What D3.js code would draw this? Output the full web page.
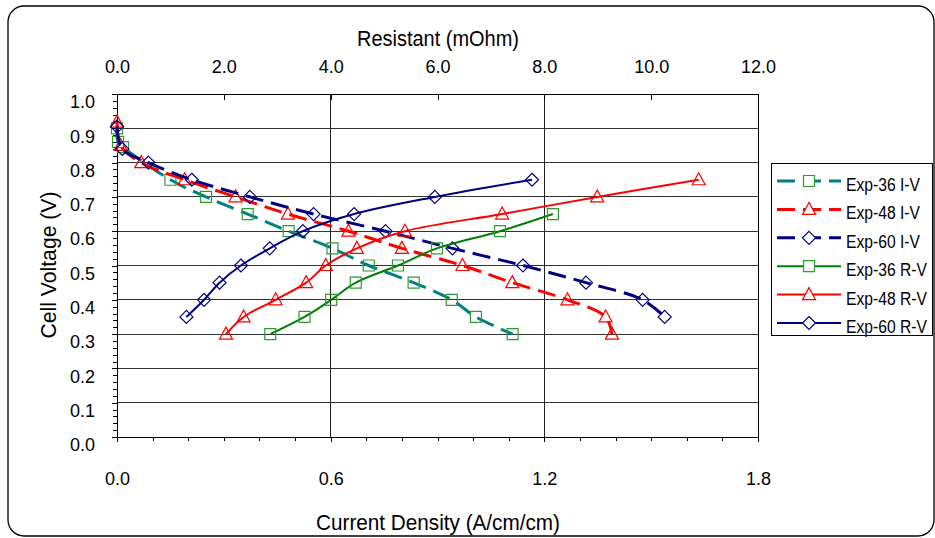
<!DOCTYPE html>
<html>
<head>
<meta charset="utf-8">
<script src="https://cdn.jsdelivr.net/npm/d3@7"></script>
<style>
  html, body { margin: 0; padding: 0; background: #fff; }
  svg { display: block; font-family: "Liberation Sans", Arial, sans-serif; }
</style>
</head>
<body>
<svg id="chart" width="935" height="538"></svg>
<script>
// ---------------- data ----------------
const voltageTicks = [0, 0.1, 0.2, 0.3, 0.4, 0.5, 0.6, 0.7, 0.8, 0.9, 1.0];
const currentTicks = [0, 0.6, 1.2, 1.8];
const resistTicks = [0, 2, 4, 6, 8, 10, 12];

// I-V curves (bottom axis: current density)
const exp36IV_I = [0, 0.003, 0.017, 0.15, 0.25, 0.367, 0.482, 0.605, 0.707, 0.833, 0.94, 1.008, 1.111];
const exp36IV_V = [0.90, 0.86, 0.845, 0.75, 0.70, 0.65, 0.60, 0.55, 0.50, 0.45, 0.40, 0.35, 0.30];
const exp48IV_I = [0, 0.01, 0.068, 0.19, 0.333, 0.48, 0.65, 0.80, 0.97, 1.11, 1.265, 1.372, 1.39];
const exp48IV_V = [0.918, 0.85, 0.80, 0.75, 0.70, 0.65, 0.60, 0.55, 0.50, 0.45, 0.40, 0.35, 0.30];
const exp60IV_I = [0, 0.015, 0.088, 0.21, 0.373, 0.552, 0.754, 0.942, 1.14, 1.317, 1.476, 1.538];
const exp60IV_V = [0.905, 0.84, 0.80, 0.75, 0.70, 0.65, 0.60, 0.55, 0.50, 0.45, 0.40, 0.35];

// R-V curves (top axis: resistance)
const exp36RV_R = [2.87, 3.51, 4.01, 4.47, 5.26, 5.99, 7.17, 8.16];
const exp36RV_V = [0.30, 0.35, 0.40, 0.45, 0.50, 0.55, 0.60, 0.65];
const exp48RV_R = [2.04, 2.37, 2.97, 3.54, 3.91, 4.49, 5.39, 7.21, 8.99, 10.89];
const exp48RV_V = [0.30, 0.35, 0.40, 0.45, 0.50, 0.55, 0.60, 0.65, 0.70, 0.75];
const exp60RV_R = [1.30, 1.63, 1.92, 2.32, 2.86, 3.48, 4.44, 5.95, 7.77];
const exp60RV_V = [0.35, 0.40, 0.45, 0.50, 0.55, 0.60, 0.65, 0.70, 0.75];

const seriesNames = ["Exp-36 I-V", "Exp-48 I-V", "Exp-60 I-V", "Exp-36 R-V", "Exp-48 R-V", "Exp-60 R-V"];

// ---------------- layout ----------------
const svg = d3.select("#chart");
const L = 117, R = 758, T = 94, B = 437;

const y = d3.scaleLinear().domain([0, 1]).range([B, T]);
const xI = d3.scaleLinear().domain([0, 1.8]).range([L, R]);
const xR = d3.scaleLinear().domain([0, 12]).range([L, R]);

// outer frame
svg.append("rect").attr("x", 8).attr("y", 6).attr("width", 926).attr("height", 530)
  .attr("rx", 16).attr("ry", 16).attr("fill", "#fff").attr("stroke", "#000").attr("stroke-width", 1.3);

// gridlines
const grid = svg.append("g");
voltageTicks.filter(v => v > 0).forEach(v => {
  grid.append("line").attr("x1", L).attr("x2", R).attr("y1", y(v)).attr("y2", y(v))
    .attr("stroke", "#333").attr("stroke-width", 1).attr("shape-rendering", "crispEdges");
});
currentTicks.filter(v => v > 0 && v < 1.8).forEach(v => {
  grid.append("line").attr("x1", xI(v)).attr("x2", xI(v)).attr("y1", T).attr("y2", B)
    .attr("stroke", "#222").attr("stroke-width", 1).attr("shape-rendering", "crispEdges");
});
// plot border
svg.append("rect").attr("x", L).attr("y", T).attr("width", R - L).attr("height", B - T)
  .attr("fill", "none").attr("stroke", "#000").attr("stroke-width", 1).attr("shape-rendering", "crispEdges");

// axes
function styleAxis(g) {
  g.select(".domain").attr("stroke", "#000").attr("shape-rendering", "crispEdges");
  g.selectAll(".tick line").attr("stroke", "#000").attr("shape-rendering", "crispEdges");
  g.selectAll(".tick text").attr("fill", "#000").style("font-size", "18px")
    .style("font-family", "'Liberation Sans', Arial, sans-serif");
}
const minorV = d3.range(0, 1.0001, 0.02);
svg.append("g").attr("transform", `translate(${L},0)`)
  .call(d3.axisLeft(y).tickValues(minorV).tickSize(4).tickFormat(""))
  .call(styleAxis);
svg.append("g").attr("transform", `translate(${L},0)`)
  .call(d3.axisLeft(y).tickValues(voltageTicks).tickSize(5).tickPadding(17).tickFormat(d3.format(".1f")))
  .call(styleAxis)
  .call(g => g.selectAll(".tick text").attr("y", 8));

const minorI = d3.range(0, 1.8001, 0.1);
svg.append("g").attr("transform", `translate(0,${B})`)
  .call(d3.axisBottom(xI).tickValues(minorI).tickSize(4).tickFormat(""))
  .call(styleAxis);
svg.append("g").attr("transform", `translate(0,${B})`)
  .call(d3.axisBottom(xI).tickValues(currentTicks).tickSize(5).tickPadding(30).tickFormat(d3.format(".1f")))
  .call(styleAxis);

svg.append("g").attr("transform", `translate(0,${T})`)
  .call(d3.axisTop(xR).tickValues(resistTicks).tickSize(-6).tickPadding(21).tickFormat(d3.format(".1f")))
  .call(styleAxis);

// axis titles
svg.append("text").attr("x", 438).attr("y", 46).attr("text-anchor", "middle")
  .attr("textLength", 162).attr("lengthAdjust", "spacingAndGlyphs")
  .style("font-size", "22px").text("Resistant (mOhm)");
svg.append("text").attr("x", 438).attr("y", 530).attr("text-anchor", "middle")
  .attr("textLength", 244).attr("lengthAdjust", "spacingAndGlyphs")
  .style("font-size", "22px").text("Current Density (A/cm/cm)");
svg.append("text").attr("transform", "translate(56,265) rotate(-90)").attr("text-anchor", "middle")
  .attr("textLength", 147).attr("lengthAdjust", "spacingAndGlyphs")
  .style("font-size", "22px").text("Cell Voltage (V)");

// ---------------- series ----------------
const seriesDefs = [
  { name: seriesNames[0], xs: exp36IV_I, vs: exp36IV_V, sx: xI, line: "#008080", mark: "#2e9b2e", dash: "18,8", w: 3, sym: "square" },
  { name: seriesNames[1], xs: exp48IV_I, vs: exp48IV_V, sx: xI, line: "#ff0000", mark: "#ff0000", dash: "18,8", w: 3, sym: "triangle" },
  { name: seriesNames[2], xs: exp60IV_I, vs: exp60IV_V, sx: xI, line: "#000080", mark: "#000080", dash: "18,8", w: 3, sym: "diamond" },
  { name: seriesNames[3], xs: exp36RV_R, vs: exp36RV_V, sx: xR, line: "#008000", mark: "#2e9b2e", dash: null, w: 2, sym: "square" },
  { name: seriesNames[4], xs: exp48RV_R, vs: exp48RV_V, sx: xR, line: "#ff0000", mark: "#ff0000", dash: null, w: 2, sym: "triangle" },
  { name: seriesNames[5], xs: exp60RV_R, vs: exp60RV_V, sx: xR, line: "#000080", mark: "#000080", dash: null, w: 2, sym: "diamond" }
];

function symPath(sym) {
  if (sym === "square") return "M-5.5,-5.5H5.5V5.5H-5.5Z";
  if (sym === "triangle") return "M0,-7L6.5,5L-6.5,5Z";
  return "M0,-6.5L6.5,0L0,6.5L-6.5,0Z";
}

const plot = svg.append("g");
seriesDefs.forEach(s => {
  const pts = s.xs.map((v, i) => [s.sx(v), y(s.vs[i])]);
  const lineGen = d3.line().curve(d3.curveCatmullRom.alpha(0.5));
  plot.append("path").attr("d", lineGen(pts)).attr("fill", "none")
    .attr("stroke", s.line).attr("stroke-width", s.w)
    .attr("stroke-dasharray", s.dash).attr("stroke-linejoin", "round");
  plot.selectAll(null).data(pts).enter().append("path")
    .attr("transform", d => `translate(${d[0]},${d[1]})`)
    .attr("d", symPath(s.sym)).attr("fill", "none")
    .attr("stroke", s.mark).attr("stroke-width", 1.2);
});

// ---------------- legend ----------------
const lg = svg.append("g");
lg.append("rect").attr("x", 771).attr("y", 163).attr("width", 161).attr("height", 172)
  .attr("fill", "#fff").attr("stroke", "#000").attr("stroke-width", 1).attr("shape-rendering", "crispEdges");
seriesDefs.forEach((s, i) => {
  const ly = 181 + i * 28.4;
  lg.append("line").attr("x1", 777).attr("x2", 841).attr("y1", ly).attr("y2", ly)
    .attr("stroke", s.line).attr("stroke-width", s.w).attr("stroke-dasharray", s.dash);
  lg.append("path").attr("transform", `translate(809,${ly})`).attr("d", symPath(s.sym))
    .attr("fill", "#fff").attr("stroke", s.mark).attr("stroke-width", 1.2);
  lg.append("g").attr("transform", `translate(846,${ly + 10}) scale(0.87,1)`)
    .append("text").style("font-size", "18px").text(s.name);
});
</script>
</body>
</html>
